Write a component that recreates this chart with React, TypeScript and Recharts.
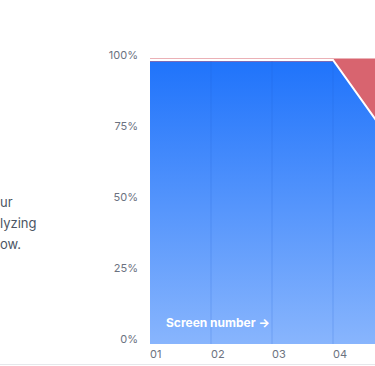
import { AreaChart, Area, Line, XAxis, YAxis, ReferenceLine } from 'recharts';

const screens = ['01', '02', '03', '04', '05'];
const kept = [100, 100, 100, 100, 70];
const dropped = [0, 0, 0, 0, 30];
const yTicks = [0, 25, 50, 75, 100];
const textLines = ['ur', 'lyzing', 'ow.'];

const data = screens.map((s, i) => ({ screen: s, kept: kept[i], dropped: dropped[i] }));

const font = 'Inter, "Noto Sans", sans-serif';

function YTick({ x, y, payload }) {
    return (
        <text x={x - 4} y={y - 4} textAnchor="end" dominantBaseline="middle" fontSize={11} fill="#6b7280" fontFamily={font}>
            {payload.value}%
        </text>
    );
}

function XTick({ x, payload }) {
    // the last screen sits past the visible edge
    if (x > 360) return null;
    return (
        <text x={x} y={355} textAnchor="start" dominantBaseline="middle" fontSize={11} fill="#6b7280" fontFamily={font}>
            {payload.value}
        </text>
    );
}

export default function App() {
    return (
        <div style={{ position: 'fixed', left: 0, top: 0, width: 375, height: 366, overflow: 'hidden', background: '#fff', fontFamily: font }}>
            {textLines.map((t, i) => (
                <div key={t} style={{ position: 'absolute', left: 0, top: 194 + i * 21, fontSize: 13, color: '#4b5563', lineHeight: '16px' }}>
                    {t}
                </div>
            ))}
            <div style={{ position: 'absolute', left: 0, top: 0 }}>
                <AreaChart width={394} height={366} data={data} margin={{ top: 60, right: 0, bottom: 0, left: 0 }}>
                    <defs>
                        <linearGradient id="blueFill" x1="0" y1="0" x2="0" y2="1">
                            <stop offset="0%" stopColor="#1f73fb" />
                            <stop offset="100%" stopColor="#88b5fd" />
                        </linearGradient>
                    </defs>
                    <XAxis dataKey="screen" axisLine={false} tickLine={false} height={22} tick={XTick} interval={0} />
                    <YAxis width={150} domain={[0, 100]} ticks={yTicks} axisLine={false} tickLine={false} tick={YTick} />
                    <Area dataKey="kept" stackId="a" type="linear" fill="url(#blueFill)" fillOpacity={1} stroke="none" isAnimationActive={false} />
                    <Area dataKey="dropped" stackId="a" type="linear" fill="#d8646f" fillOpacity={1} stroke="#d8646f" strokeWidth={3} isAnimationActive={false} />
                    {screens.slice(1).map((s) => (
                        <ReferenceLine key={s} x={s} stroke="#1a5fd0" strokeOpacity={0.22} strokeWidth={1} />
                    ))}
                    <Line dataKey="kept" type="linear" stroke="#ffffff" strokeWidth={2} dot={false} isAnimationActive={false} />
                </AreaChart>
            </div>
            <div style={{ position: 'absolute', left: 166, top: 315, color: '#fff', fontWeight: 700, fontSize: 12 }}>Screen number →</div>
            <div style={{ position: 'absolute', left: 0, top: 364, width: 375, height: 1, background: '#e5e7eb' }} />
        </div>
    );
}
